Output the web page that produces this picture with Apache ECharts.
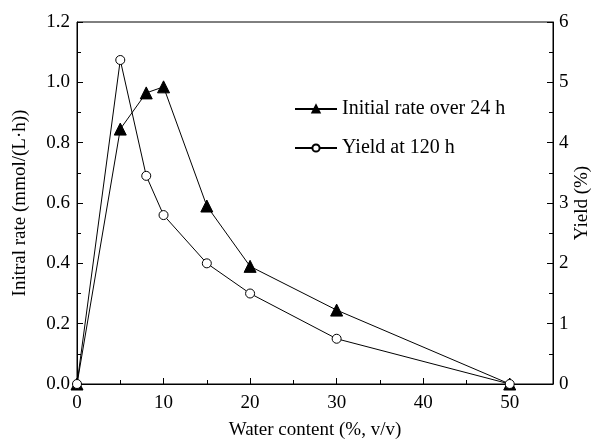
<!DOCTYPE html>
<html>
<head>
<meta charset="utf-8">
<script src="https://cdn.jsdelivr.net/npm/echarts@6/dist/echarts.min.js"></script>
<style>
html,body{margin:0;padding:0;background:#fff;}
#c{width:601px;height:441px;}
</style>
</head>
<body>
<div id="c"></div>
<script>
var waterContent = [0, 5, 8, 10, 15, 20, 30, 50];
var initialRate = [0, 0.845, 0.965, 0.985, 0.59, 0.39, 0.245, 0];
var yieldPct = [0, 5.37, 3.45, 2.8, 2.0, 1.5, 0.75, 0];
var seriesNames = ['Initial rate over 24 h', 'Yield at 120 h'];
var xName = 'Water content (%, v/v)';
var yLeftName = 'Initral rate (mmol/(L\u00b7h))';
var yRightName = 'Yield (%)';

var font = 'Liberation Serif';
var fs = 19;
function pairs(xs, ys){ return xs.map(function(x,i){ return [x, ys[i]]; }); }

var chart = echarts.init(document.getElementById('c'));
chart.setOption({
  animation: false,
  backgroundColor: '#fff',
  textStyle: {fontFamily: font, color: '#000'},
  grid: {left: 77, right: 48, top: 22, bottom: 57, containLabel: false, outerBoundsMode: 'none',
    show: true, borderColor: '#000', borderWidth: 1, backgroundColor: 'transparent'},
  legend: {
    orient: 'vertical', left: 294, top: 99, itemWidth: 42, itemHeight: 9, itemGap: 19, padding: 0,
    textStyle: {fontFamily: font, fontSize: 20, color: '#000'},
    data: seriesNames
  },
  xAxis: {
    type: 'value', min: 0, max: 55, interval: 10,
    name: xName, nameLocation: 'middle', nameGap: 37,
    nameTextStyle: {fontFamily: font, fontSize: fs, color: '#000'},
    axisLine: {lineStyle: {color: '#000', width: 1}},
    axisTick: {inside: true, length: 6, lineStyle: {color: '#000'}},
    minorTick: {show: true, splitNumber: 2, length: 4, lineStyle: {color: '#000'}},
    axisLabel: {fontFamily: font, fontSize: fs, color: '#000', margin: 10, showMaxLabel: false,
      formatter: function(v){ return v > 50 ? '' : String(v); }},
    splitLine: {show: false}
  },
  yAxis: [{
    type: 'value', min: 0, max: 1.2, interval: 0.2, position: 'left',
    name: yLeftName, nameLocation: 'middle', nameGap: 47, nameRotate: 90,
    nameTextStyle: {fontFamily: font, fontSize: fs, color: '#000'},
    axisLine: {show: true, lineStyle: {color: '#000', width: 1}},
    axisTick: {show: true, inside: true, length: 6, lineStyle: {color: '#000'}},
    minorTick: {show: true, splitNumber: 2, length: 4, lineStyle: {color: '#000'}},
    axisLabel: {fontFamily: font, fontSize: fs, color: '#000', margin: 7,
      formatter: function(v){ return v.toFixed(1); }},
    splitLine: {show: false}
  }, {
    type: 'value', min: 0, max: 6, interval: 1, position: 'right',
    name: yRightName, nameLocation: 'middle', nameGap: 20, nameRotate: 90, nameMoveOverlap: false,
    nameTextStyle: {fontFamily: font, fontSize: fs, color: '#000'},
    axisLine: {show: true, lineStyle: {color: '#000', width: 1}},
    axisTick: {show: true, inside: true, length: 6, lineStyle: {color: '#000'}},
    minorTick: {show: true, splitNumber: 2, length: 4, lineStyle: {color: '#000'}},
    axisLabel: {fontFamily: font, fontSize: fs, color: '#000', margin: 6},
    splitLine: {show: false}
  }],
  series: [{
    name: seriesNames[0], type: 'line', yAxisIndex: 0,
    data: pairs(waterContent, initialRate),
    symbol: 'triangle', symbolSize: 12,
    lineStyle: {color: '#000', width: 1},
    itemStyle: {color: '#000', borderColor: '#000', borderWidth: 1}
  }, {
    name: seriesNames[1], type: 'line', yAxisIndex: 1,
    data: pairs(waterContent, yieldPct),
    symbol: 'circle', symbolSize: 9,
    lineStyle: {color: '#000', width: 1},
    itemStyle: {color: '#fff', borderColor: '#000', borderWidth: 1}
  }]
});
</script>
</body>
</html>
